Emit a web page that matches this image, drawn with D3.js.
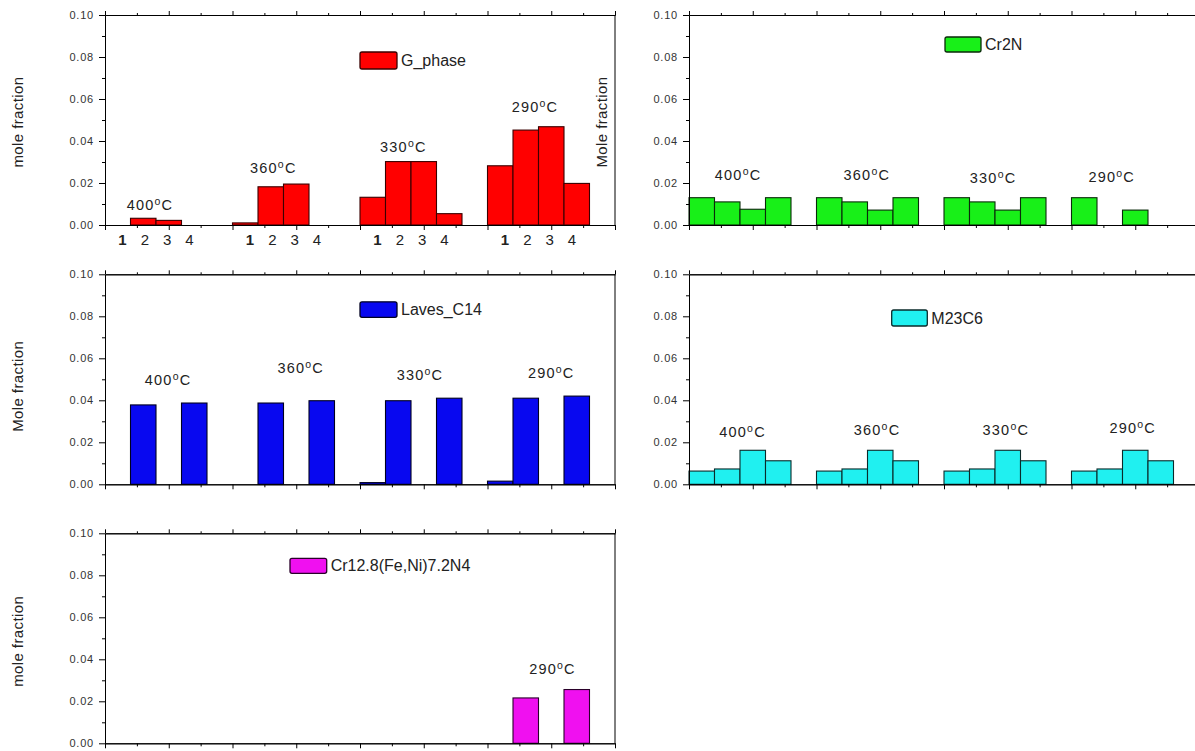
<!DOCTYPE html>
<html>
<head>
<meta charset="utf-8">
<script src="https://cdn.jsdelivr.net/npm/d3@7"></script>
<style>
  html,body{margin:0;padding:0;background:#fff;}
  svg{display:block;font-family:"Liberation Sans",Arial,sans-serif;}
</style>
</head>
<body>
<svg id="chart" width="1195" height="751"></svg>
<script>
// ---------------- DATA ----------------
const temperatures = ["400", "360", "330", "290"];
const barNumbers = ["1", "2", "3", "4"];
const yTickValues = [0, 0.02, 0.04, 0.06, 0.08, 0.10];
const yMinorTicks = [0.01, 0.03, 0.05, 0.07, 0.09];

// per temperature group: values for samples 1..4
const gPhase = [
  [0, 0.0032, 0.0022, 0],
  [0.0010, 0.0182, 0.0195, 0],
  [0.0132, 0.0302, 0.0302, 0.0054],
  [0.0282, 0.0452, 0.0468, 0.0198]
];
const cr2n = [
  [0.0130, 0.0110, 0.0075, 0.0130],
  [0.0130, 0.0110, 0.0071, 0.0130],
  [0.0130, 0.0110, 0.0071, 0.0130],
  [0.0130, 0, 0.0071, 0]
];
const lavesC14 = [
  [0, 0.0378, 0, 0.0387],
  [0, 0.0387, 0, 0.0398],
  [0.0008, 0.0398, 0, 0.0410],
  [0.0015, 0.0410, 0, 0.0420]
];
const m23c6 = [
  [0.0063, 0.0073, 0.0162, 0.0112],
  [0.0063, 0.0073, 0.0162, 0.0112],
  [0.0063, 0.0073, 0.0162, 0.0112],
  [0.0063, 0.0073, 0.0162, 0.0112]
];
const crFeNiN = [
  [0, 0, 0, 0],
  [0, 0, 0, 0],
  [0, 0, 0, 0],
  [0, 0.0216, 0, 0.0256]
];

// ---------------- LAYOUT ----------------
const PW = 510, PH = 210;
const panels = [
  { name: "G_phase", values: gPhase, fill: "#ff0000", stroke: "#3a0000",
    x0: 105, y0: 15, ylabel: "mole fraction", ylx: 17.5, ylShift: 2,
    legend: [255, 37, 37, 17],
    tempPos: [[0.706, 0.0071], [2.64, 0.0248], [4.68, 0.0348], [6.745, 0.0538]],
    tempShow: [true, true, true, true], digits: true },
  { name: "Cr2N", values: cr2n, fill: "#18f018", stroke: "#0a2a0a",
    x0: 689, y0: 15, ylabel: "Mole fraction", ylx: 601.7, ylShift: 2,
    legend: [256, 22, 36, 15],
    tempPos: [[0.77, 0.0214], [2.79, 0.0214], [4.77, 0.0201], [6.63, 0.0206]],
    tempShow: [true, true, true, true] },
  { name: "Laves_C14", values: lavesC14, fill: "#0808f0", stroke: "#000020",
    x0: 105, y0: 274.3, ylabel: "Mole fraction", ylx: 17.5, ylShift: 7,
    legend: [255, 27.5, 37, 15.5],
    tempPos: [[0.99, 0.0473], [3.07, 0.0531], [4.94, 0.0497], [7.0, 0.0505]],
    tempShow: [true, true, true, true] },
  { name: "M23C6", values: m23c6, fill: "#20f0f0", stroke: "#0a2a2a",
    x0: 689, y0: 274.3, ylabel: null,
    legend: [202.7, 35.7, 35.6, 16],
    tempPos: [[0.84, 0.0227], [2.95, 0.0235], [4.97, 0.0235], [6.96, 0.0243]],
    tempShow: [true, true, true, true] },
  { name: "Cr12.8(Fe,Ni)7.2N4", values: crFeNiN, fill: "#f010f0", stroke: "#2a002a",
    x0: 105, y0: 533.3, ylabel: "mole fraction", ylx: 17.5, ylShift: 3,
    legend: [185, 25, 36.7, 15],
    tempPos: [[0, 0], [0, 0], [0, 0], [7.02, 0.033]],
    tempShow: [false, false, false, true] }
];

const svg = d3.select("#chart");

panels.forEach(p => {
  const x = d3.scaleLinear().domain([0, 8]).range([p.x0, p.x0 + PW]);
  const y = d3.scaleLinear().domain([0, 0.1]).range([p.y0 + PH, p.y0]);
  const g = svg.append("g");

  // bars
  const flat = [];
  p.values.forEach((grp, gi) => grp.forEach((v, bi) => flat.push({ gi, bi, v })));
  g.selectAll("rect.bar").data(flat.filter(d => d.v > 0)).join("rect")
    .attr("class", "bar")
    .attr("x", d => x(2 * d.gi + 0.4 * d.bi))
    .attr("width", d => x(0.4) - x(0))
    .attr("y", d => y(d.v))
    .attr("height", d => y(0) - y(d.v))
    .attr("fill", p.fill)
    .attr("stroke", p.stroke)
    .attr("stroke-width", 1.1);

  // axes
  const left = d3.axisLeft(y).tickValues(yTickValues).tickFormat(d3.format(".2f"))
    .tickSize(6).tickSizeOuter(0).tickPadding(5);
  const ga = g.append("g").attr("transform", `translate(${p.x0},0)`).call(left);
  ga.selectAll("text").attr("font-size", 11).attr("fill", "#333")
    .attr("letter-spacing", 0.8).attr("font-family", "Liberation Sans, Arial, sans-serif");
  g.append("g").attr("transform", `translate(${p.x0},0)`)
    .call(d3.axisLeft(y).tickValues(yMinorTicks).tickFormat("").tickSize(3).tickSizeOuter(0));

  const majorX = d3.range(0, 9);
  const minorX = d3.range(0.5, 8, 1);
  g.append("g").attr("transform", `translate(0,${p.y0 + PH})`)
    .call(d3.axisBottom(x).tickValues(majorX).tickFormat("").tickSize(5).tickSizeOuter(0));
  g.append("g").attr("transform", `translate(0,${p.y0 + PH})`)
    .call(d3.axisBottom(x).tickValues(minorX).tickFormat("").tickSize(3).tickSizeOuter(0));
  g.append("g").attr("transform", `translate(0,${p.y0})`)
    .call(d3.axisTop(x).tickValues(majorX).tickFormat("").tickSize(4).tickSizeOuter(0));
  g.append("g").attr("transform", `translate(0,${p.y0})`)
    .call(d3.axisTop(x).tickValues(minorX).tickFormat("").tickSize(2).tickSizeOuter(0));
  // right border
  g.append("line").attr("x1", x(8)).attr("x2", x(8)).attr("y1", y(0)).attr("y2", y(0.1))
    .attr("stroke", "#000");
  g.selectAll(".domain").attr("stroke", "#000");
  g.selectAll(".tick line").attr("stroke", "#000");

  // legend
  const [lx, ly, lw, lh] = p.legend;
  g.append("rect").attr("x", p.x0 + lx).attr("y", p.y0 + ly).attr("width", lw).attr("height", lh)
    .attr("rx", 2).attr("fill", p.fill).attr("stroke", p.stroke).attr("stroke-width", 1.3);
  g.append("text").attr("x", p.x0 + lx + lw + 4).attr("y", p.y0 + ly + lh / 2)
    .attr("dominant-baseline", "central").attr("font-size", 16).attr("fill", "#222")
    .text(p.name);

  // temperature labels
  temperatures.forEach((t, i) => {
    if (!p.tempShow[i]) return;
    const [tx, tv] = p.tempPos[i];
    const tt = g.append("text").attr("x", x(tx)).attr("y", y(tv))
      .attr("text-anchor", "middle").attr("font-size", 14.5).attr("fill", "#222")
      .attr("letter-spacing", 1.2);
    tt.append("tspan").text(t);
    tt.append("tspan").attr("font-size", 10.5).attr("dy", -5).text("o");
    tt.append("tspan").attr("dy", 5).text("C");
  });

  // sample numbers under groups (first panel only)
  if (p.digits) {
    temperatures.forEach((t, gi) => {
      barNumbers.forEach((n, bi) => {
        g.append("text").attr("x", x(2 * gi + 0.8 + (bi - 1.5) * 0.35)).attr("y", p.y0 + PH + 20)
          .attr("text-anchor", "middle").attr("font-size", 15).attr("fill", "#222")
          .attr("font-weight", bi === 0 ? "bold" : "normal").text(n);
      });
    });
  }

  // y label
  if (p.ylabel) {
    const cy = p.y0 + PH / 2 + p.ylShift;
    svg.append("text").attr("transform", `translate(${p.ylx},${cy}) rotate(-90)`)
      .attr("text-anchor", "middle").attr("dominant-baseline", "central")
      .attr("font-size", 15).attr("letter-spacing", 0.4).attr("fill", "#222").text(p.ylabel);
  }
});
</script>
</body>
</html>
